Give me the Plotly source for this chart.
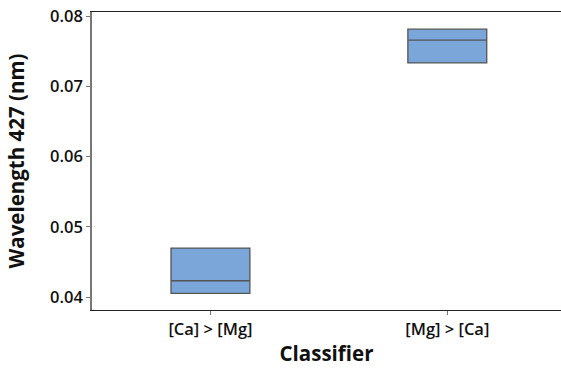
import plotly.graph_objects as go

categories = ["[Ca] > [Mg]", "[Mg] > [Ca]"]
q1 = [0.04053, 0.07335]
median = [0.04232, 0.07658]
q3 = [0.04697, 0.07815]
y_ticks = [0.04, 0.05, 0.06, 0.07, 0.08]
y_tick_labels = ["0.04", "0.05", "0.06", "0.07", "0.08"]

fig = go.Figure()
fig.add_trace(go.Box(
    x=categories,
    q1=q1, median=median, q3=q3,
    lowerfence=q1, upperfence=q3,
    fillcolor="#7aa6da",
    line=dict(color="#555555", width=1.3),
    whiskerwidth=0,
    width=0.333,
    boxpoints=False,
    showlegend=False,
))

font_family = "Open Sans, DejaVu Sans, sans-serif"
fig.update_layout(
    width=561, height=370,
    margin=dict(l=92, r=0, t=12, b=60),
    plot_bgcolor="white", paper_bgcolor="white",
    font=dict(family=font_family, color="#111111"),
)
fig.update_xaxes(
    range=[-0.5, 1.48],
    showline=True, linecolor="#222222", linewidth=1.3, mirror=True,
    ticks="outside", ticklen=4, tickcolor="#777777",
    tickfont=dict(size=16.5, family=font_family, weight=600),
    title=dict(text="Classifier", font=dict(size=20.5, weight="bold"), standoff=7),
    showgrid=False, zeroline=False,
)
fig.update_yaxes(
    range=[0.03815, 0.0806],
    tickvals=y_ticks, ticktext=y_tick_labels,
    showline=True, linecolor="#777777", linewidth=1.5,
    ticks="outside", ticklen=4, tickcolor="#777777",
    tickfont=dict(size=16.5, family=font_family, weight=600),
    title=dict(text="Wavelength 427 (nm)", font=dict(size=20.5, weight="bold"), standoff=20),
    showgrid=False, zeroline=False,
)
fig.write_html("out.html")
